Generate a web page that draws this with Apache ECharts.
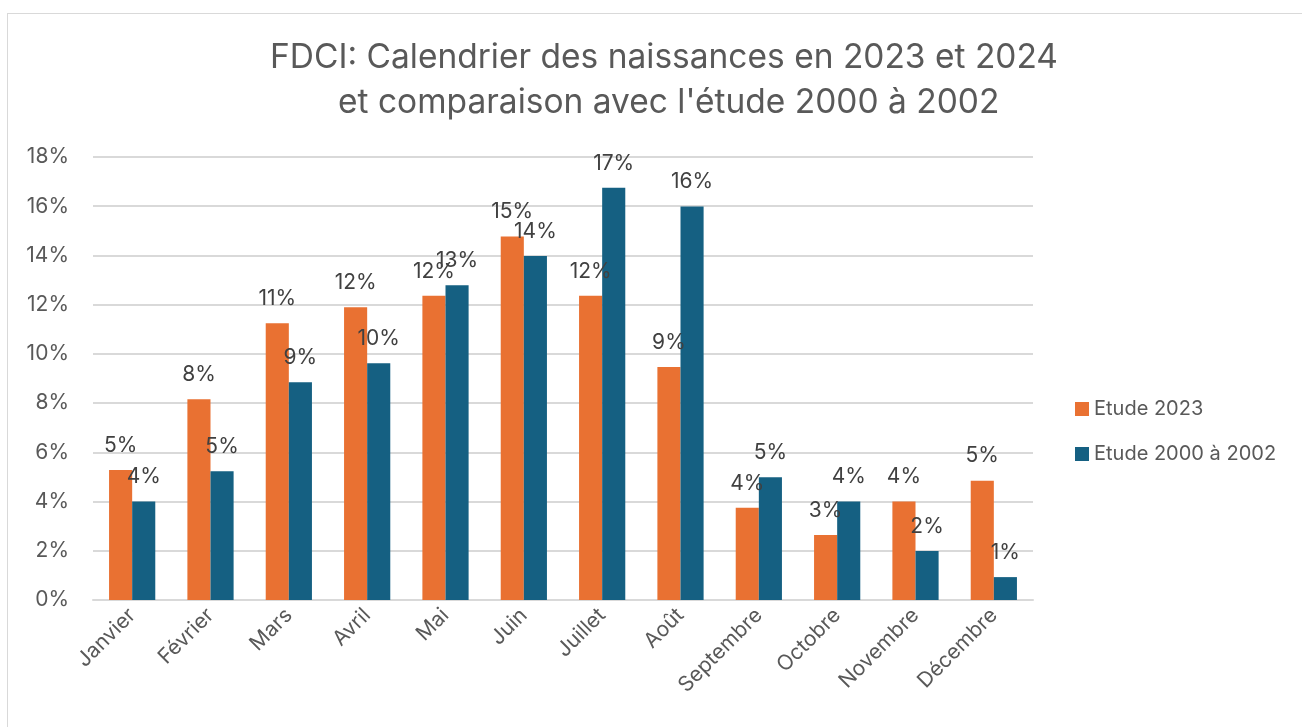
<!DOCTYPE html>
<html>
<head>
<meta charset="utf-8">
<script src="https://cdn.jsdelivr.net/npm/echarts@6/dist/echarts.min.js"></script>
<style>
    html, body { margin: 0; padding: 0; background: #fff; }
    .frame {
        position: absolute;
        left: 7px;
        top: 13px;
        width: 1400px;
        height: 800px;
        border: 1px solid #d9d9d9;
    }
    #chart {
        position: absolute;
        left: 0;
        top: 0;
        width: 1302px;
        height: 727px;
    }
</style>
</head>
<body>
<div class="frame"></div>
<div id="chart"></div>
<script>
// mois
const months = ['Janvier', 'Février', 'Mars', 'Avril', 'Mai', 'Juin', 'Juillet', 'Août',
    'Septembre', 'Octobre', 'Novembre', 'Décembre'];

// % des naissances par mois
const etude2023 = [5.28, 8.16, 11.25, 11.9, 12.36, 14.77, 12.36, 9.47, 3.75, 2.64, 4.0, 4.85];
const etude2000 = [4.0, 5.23, 8.85, 9.62, 12.79, 13.98, 16.75, 15.99, 4.99, 4.0, 1.99, 0.93];

const seriesNames = ['Etude 2023', 'Etude 2000 à 2002'];
const yTicks = { min: 0, max: 18, interval: 2 };

const font = 'Inter, "Noto Sans", sans-serif';

const chart = echarts.init(document.getElementById('chart'));

function barSeries(name, data, color) {
    return {
        name: name,
        type: 'bar',
        data: data,
        barGap: '0%',
        barCategoryGap: '41%',
        itemStyle: { color: color },
        label: {
            show: true,
            position: 'top',
            distance: 14,
            color: '#404040',
            fontSize: 21,
            fontFamily: font,
            formatter: p => Math.round(p.value) + '%'
        }
    };
}

const option = {
    animation: false,
    title: {
        text: 'FDCI: Calendrier des naissances en 2023 et 2024\n et comparaison avec l\'étude 2000 à 2002',
        left: 659,
        top: 30,
        textAlign: 'center',
        textStyle: {
            fontFamily: font,
            fontSize: 33.5,
            fontWeight: 'normal',
            color: '#595959',
            lineHeight: 45
        }
    },
    legend: {
        orient: 'vertical',
        left: 1075,
        top: 399,
        padding: 0,
        itemWidth: 14,
        itemHeight: 14,
        itemGap: 25,
        icon: 'rect',
        textStyle: { fontFamily: font, fontSize: 20, color: '#595959' },
        data: seriesNames
    },
    grid: {
        left: 93,
        right: 269,
        top: 157,
        bottom: 127
    },
    xAxis: {
        type: 'category',
        data: months,
        axisLine: { lineStyle: { color: '#d9d9d9', width: 2 } },
        axisTick: { show: false },
        axisLabel: {
            rotate: 45,
            margin: 12,
            interval: 0,
            fontFamily: font,
            fontSize: 21,
            color: '#595959'
        }
    },
    yAxis: {
        type: 'value',
        min: yTicks.min,
        max: yTicks.max,
        interval: yTicks.interval,
        axisLine: { show: false },
        axisTick: { show: false },
        axisLabel: {
            formatter: '{value}%',
            margin: 24,
            fontFamily: font,
            fontSize: 21,
            color: '#595959'
        },
        splitLine: { lineStyle: { color: '#d9d9d9', width: 2 } }
    },
    series: [
        barSeries(seriesNames[0], etude2023, '#e97132'),
        barSeries(seriesNames[1], etude2000, '#156082')
    ]
};

chart.setOption(option);
</script>
</body>
</html>
